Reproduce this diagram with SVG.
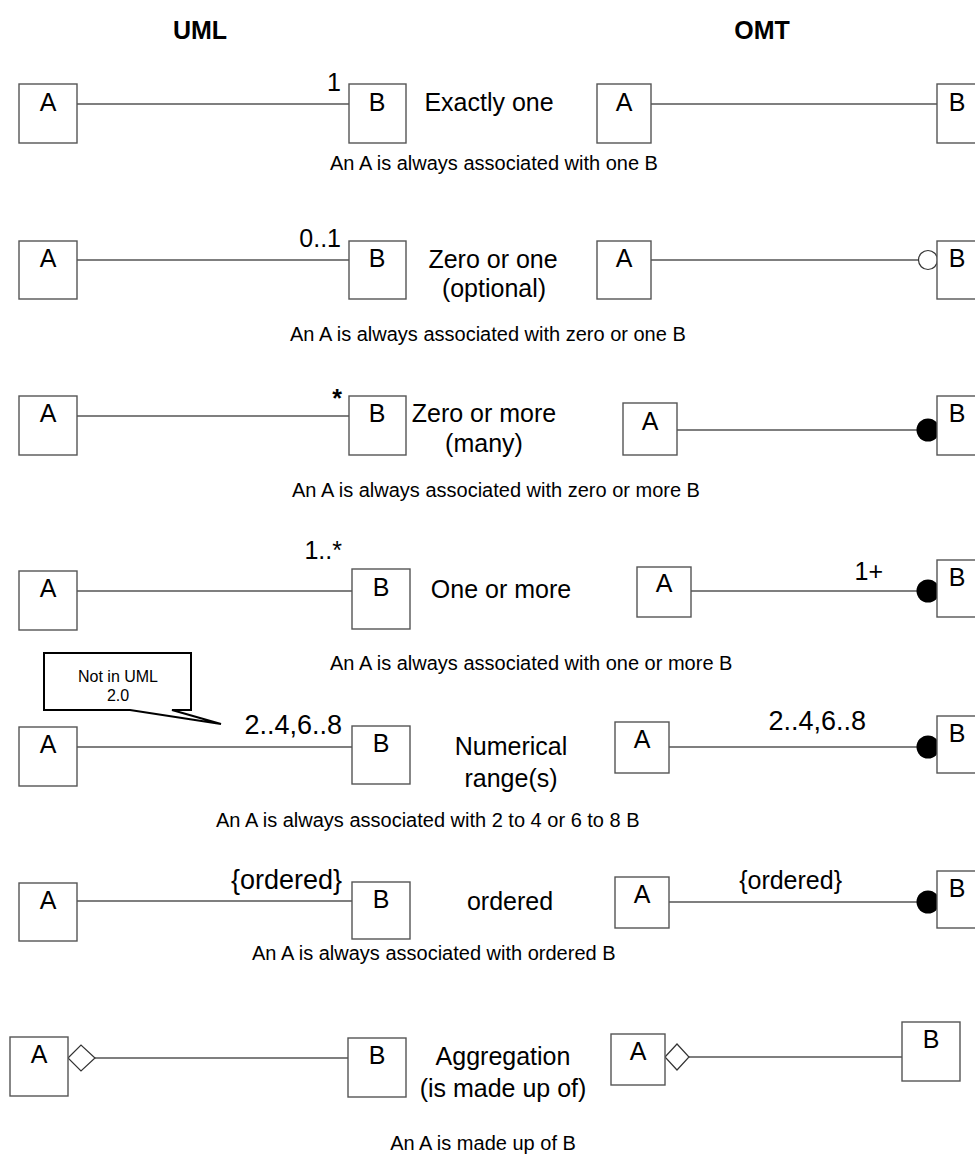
<svg xmlns="http://www.w3.org/2000/svg" width="975" height="1160" viewBox="0 0 975 1160">
  <style>
    text { font-family: "Liberation Sans", Arial, sans-serif; fill: #000; }
    .title { font-size: 25px; font-weight: bold; text-anchor: middle; }
    .box { fill: #fff; stroke: #555; stroke-width: 1.4; }
    .cls { font-size: 25px; text-anchor: middle; }
    .lbl { font-size: 25px; text-anchor: middle; }
    .mult { font-size: 25px; text-anchor: end; }
    .wide { font-size: 27px; }
    .cap { font-size: 20px; }
    .line { stroke: #555; stroke-width: 1.5; fill: none; }
    .open { fill: #fff; stroke: #333; stroke-width: 1.2; }
    .dot { fill: #000; }
    .diamond { fill: #fff; stroke: #333; stroke-width: 1.2; }
    .note { fill: #fff; stroke: #000; stroke-width: 2; }
    .notetext { font-size: 16px; text-anchor: middle; }
  </style>
  <rect width="975" height="1160" fill="#fff"/>

  <text class="title" x="200" y="39">UML</text>
  <text class="title" x="762" y="39">OMT</text>

  <!-- connectors and end adornments -->
  <g id="connectors">
    <line class="line" x1="77" y1="104" x2="349" y2="104"/>
    <line class="line" x1="651" y1="104" x2="937" y2="104"/>

    <line class="line" x1="77" y1="260" x2="349" y2="260"/>
    <line class="line" x1="651" y1="260" x2="918" y2="260"/>
    <circle class="open" cx="928" cy="260" r="9.5"/>

    <line class="line" x1="77" y1="416" x2="349" y2="416"/>
    <line class="line" x1="677" y1="430" x2="917" y2="430"/>
    <circle class="dot" cx="928" cy="430" r="11.5"/>

    <line class="line" x1="77" y1="591" x2="352" y2="591"/>
    <line class="line" x1="691" y1="591" x2="917" y2="591"/>
    <circle class="dot" cx="928" cy="591" r="11.5"/>

    <line class="line" x1="77" y1="747" x2="352" y2="747"/>
    <line class="line" x1="669" y1="747" x2="917" y2="747"/>
    <circle class="dot" cx="928" cy="747" r="11.5"/>

    <line class="line" x1="77" y1="901" x2="352" y2="901"/>
    <line class="line" x1="669" y1="902" x2="917" y2="902"/>
    <circle class="dot" cx="928" cy="902" r="11.5"/>

    <line class="line" x1="95" y1="1058" x2="348" y2="1058"/>
    <polygon class="diamond" points="68,1058 81,1045 95,1058 81,1071"/>
    <line class="line" x1="689" y1="1057" x2="902" y2="1057"/>
    <polygon class="diamond" points="665,1057 677,1044 689,1057 677,1070"/>
  </g>

  <!-- row 1: exactly one -->
  <g id="uml-a1"><rect class="box" x="19" y="84" width="58" height="59"/><text class="cls" x="48" y="111">A</text></g>
  <g id="uml-b1"><rect class="box" x="349" y="84" width="57" height="59"/><text class="cls" x="377" y="111">B</text></g>
  <text class="mult" x="341" y="91">1</text>
  <text class="lbl" x="489" y="111">Exactly one</text>
  <g id="omt-a1"><rect class="box" x="597" y="84" width="54" height="59"/><text class="cls" x="624" y="111">A</text></g>
  <g id="omt-b1"><rect class="box" x="937" y="84" width="58" height="59"/><text class="cls" x="957" y="111">B</text></g>
  <text class="cap" x="330" y="170">An A is always associated with one B</text>

  <!-- row 2: zero or one -->
  <g id="uml-a2"><rect class="box" x="19" y="241" width="58" height="58"/><text class="cls" x="48" y="267">A</text></g>
  <g id="uml-b2"><rect class="box" x="349" y="241" width="57" height="58"/><text class="cls" x="377" y="267">B</text></g>
  <text class="mult" x="341" y="247">0..1</text>
  <text class="lbl" x="493" y="268">Zero or one</text>
  <text class="lbl" x="494" y="297">(optional)</text>
  <g id="omt-a2"><rect class="box" x="597" y="241" width="54" height="58"/><text class="cls" x="624" y="267">A</text></g>
  <g id="omt-b2"><rect class="box" x="937" y="241" width="58" height="58"/><text class="cls" x="957" y="267">B</text></g>
  <text class="cap" x="290" y="341">An A is always associated with zero or one B</text>

  <!-- row 3: zero or more -->
  <g id="uml-a3"><rect class="box" x="19" y="396" width="58" height="59"/><text class="cls" x="48" y="422">A</text></g>
  <g id="uml-b3"><rect class="box" x="349" y="396" width="57" height="59"/><text class="cls" x="377" y="422">B</text></g>
  <text class="mult" x="342" y="407" font-size="36" font-weight="bold">*</text>
  <text class="lbl" x="484" y="422">Zero or more</text>
  <text class="lbl" x="484" y="452">(many)</text>
  <g id="omt-a3"><rect class="box" x="623" y="403" width="54" height="52"/><text class="cls" x="650" y="430">A</text></g>
  <g id="omt-b3"><rect class="box" x="937" y="396" width="58" height="59"/><text class="cls" x="957" y="422">B</text></g>
  <text class="cap" x="292" y="497">An A is always associated with zero or more B</text>

  <!-- row 4: one or more -->
  <g id="uml-a4"><rect class="box" x="19" y="571" width="58" height="59"/><text class="cls" x="48" y="597">A</text></g>
  <g id="uml-b4"><rect class="box" x="352" y="569" width="58" height="60"/><text class="cls" x="381" y="596">B</text></g>
  <text class="mult" x="342" y="559">1..*</text>
  <text class="lbl" x="501" y="598">One or more</text>
  <g id="omt-a4"><rect class="box" x="637" y="567" width="54" height="50"/><text class="cls" x="664" y="592">A</text></g>
  <g id="omt-b4"><rect class="box" x="937" y="560" width="58" height="57"/><text class="cls" x="957" y="586">B</text></g>
  <text class="mult" x="883" y="580">1+</text>
  <text class="cap" x="330" y="670">An A is always associated with one or more B</text>

  <!-- callout -->
  <g id="note">
    <path class="note" d="M44,653 H191 V710 H172 L221,724 L130,710 H44 Z"/>
    <text class="notetext" x="118" y="682">Not in UML</text>
    <text class="notetext" x="118" y="701">2.0</text>
  </g>

  <!-- row 5: numerical ranges -->
  <g id="uml-a5"><rect class="box" x="19" y="727" width="58" height="59"/><text class="cls" x="48" y="753">A</text></g>
  <g id="uml-b5"><rect class="box" x="352" y="726" width="58" height="58"/><text class="cls" x="381" y="752">B</text></g>
  <text class="mult wide" x="342" y="734">2..4,6..8</text>
  <text class="lbl" x="511" y="755">Numerical</text>
  <text class="lbl" x="511" y="787">range(s)</text>
  <g id="omt-a5"><rect class="box" x="615" y="722" width="54" height="51"/><text class="cls" x="642" y="748">A</text></g>
  <g id="omt-b5"><rect class="box" x="937" y="716" width="58" height="57"/><text class="cls" x="957" y="742">B</text></g>
  <text class="mult wide" x="866" y="730">2..4,6..8</text>
  <text class="cap" x="216" y="827">An A is always associated with 2 to 4 or 6 to 8 B</text>

  <!-- row 6: ordered -->
  <g id="uml-a6"><rect class="box" x="19" y="883" width="58" height="58"/><text class="cls" x="48" y="909">A</text></g>
  <g id="uml-b6"><rect class="box" x="352" y="882" width="58" height="57"/><text class="cls" x="381" y="908">B</text></g>
  <text class="mult wide" x="342" y="889">{ordered}</text>
  <text class="lbl" x="510" y="910">ordered</text>
  <g id="omt-a6"><rect class="box" x="615" y="877" width="54" height="51"/><text class="cls" x="642" y="903">A</text></g>
  <g id="omt-b6"><rect class="box" x="937" y="871" width="58" height="57"/><text class="cls" x="957" y="897">B</text></g>
  <text class="mult" x="842" y="889">{ordered}</text>
  <text class="cap" x="252" y="960">An A is always associated with ordered B</text>

  <!-- row 7: aggregation -->
  <g id="uml-a7"><rect class="box" x="10" y="1037" width="58" height="59"/><text class="cls" x="39" y="1063">A</text></g>
  <g id="uml-b7"><rect class="box" x="348" y="1038" width="58" height="59"/><text class="cls" x="377" y="1064">B</text></g>
  <text class="lbl" x="503" y="1065">Aggregation</text>
  <text class="lbl" x="503" y="1097">(is made up of)</text>
  <g id="omt-a7"><rect class="box" x="611" y="1034" width="54" height="51"/><text class="cls" x="638" y="1060">A</text></g>
  <g id="omt-b7"><rect class="box" x="902" y="1022" width="58" height="59"/><text class="cls" x="931" y="1048">B</text></g>
  <text class="cap" x="483" y="1150" text-anchor="middle">An A is made up of B</text>
</svg>
